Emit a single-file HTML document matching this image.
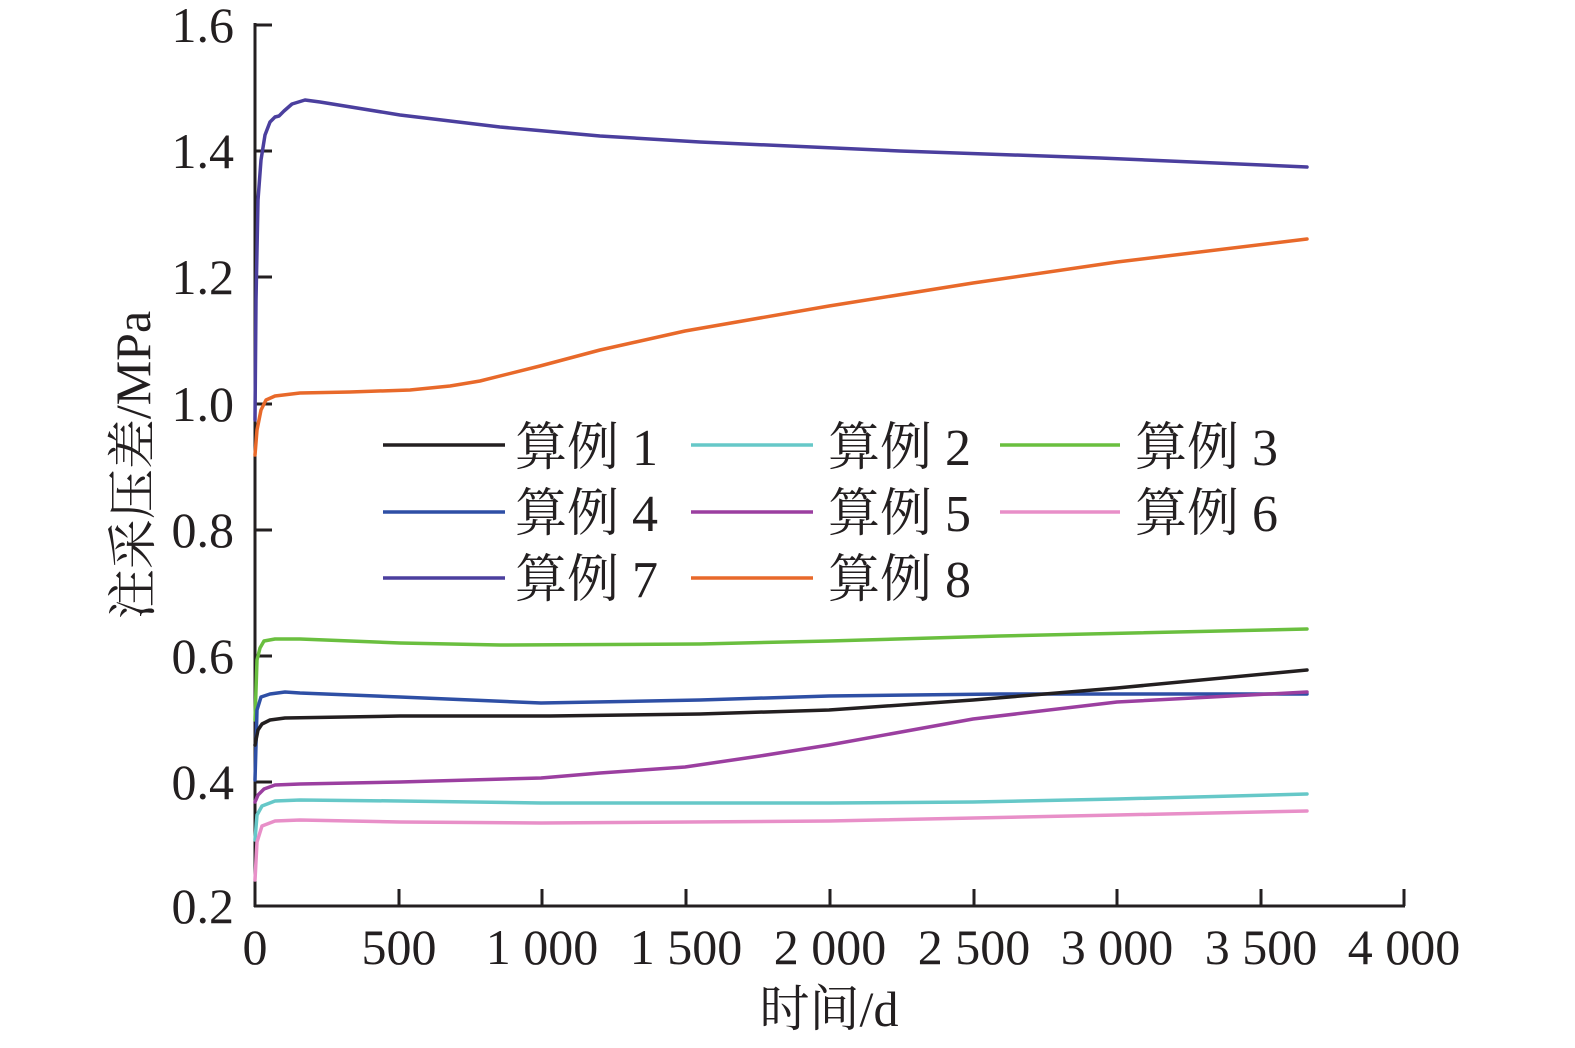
<!DOCTYPE html>
<html><head><meta charset="utf-8"><style>
html,body{margin:0;padding:0;background:#fff;overflow:hidden;width:1575px;height:1048px}
svg{display:block}
svg text{font-family:"Liberation Serif","Noto Serif CJK SC",serif;fill:#231f20}
</style></head><body>
<svg width="1575" height="1048" viewBox="0 0 1575 1048" xmlns="http://www.w3.org/2000/svg">
<g stroke="#231f20" stroke-width="3" fill="none">
<line x1="255" y1="23" x2="255" y2="907"/>
<line x1="254" y1="906" x2="1405" y2="906"/>
<line x1="255" y1="25" x2="272" y2="25"/>
<line x1="255" y1="151" x2="272" y2="151"/>
<line x1="255" y1="277" x2="272" y2="277"/>
<line x1="255" y1="404" x2="272" y2="404"/>
<line x1="255" y1="530" x2="272" y2="530"/>
<line x1="255" y1="656" x2="272" y2="656"/>
<line x1="255" y1="782" x2="272" y2="782"/>
<line x1="399" y1="906" x2="399" y2="889"/>
<line x1="542" y1="906" x2="542" y2="889"/>
<line x1="686" y1="906" x2="686" y2="889"/>
<line x1="830" y1="906" x2="830" y2="889"/>
<line x1="974" y1="906" x2="974" y2="889"/>
<line x1="1117" y1="906" x2="1117" y2="889"/>
<line x1="1261" y1="906" x2="1261" y2="889"/>
<line x1="1404" y1="906" x2="1404" y2="889"/>
</g>
<g font-size="50" text-anchor="end">
<text x="234" y="42">1.6</text><text x="234" y="168">1.4</text><text x="234" y="294">1.2</text>
<text x="234" y="421">1.0</text><text x="234" y="547">0.8</text><text x="234" y="673">0.6</text>
<text x="234" y="799">0.4</text><text x="234" y="923">0.2</text>
</g>
<g font-size="50" text-anchor="middle">
<text x="255" y="964">0</text><text x="399" y="964">500</text><text x="542" y="964">1 000</text>
<text x="686" y="964">1 500</text><text x="830" y="964">2 000</text><text x="974" y="964">2 500</text>
<text x="1117" y="964">3 000</text><text x="1261" y="964">3 500</text><text x="1404" y="964">4 000</text>
<text x="829" y="1026">时间/d</text>
<text transform="translate(150,465) rotate(-90)">注采压差/MPa</text>
</g>
<g fill="none" stroke-width="3.5" stroke-linejoin="round" stroke-linecap="round">
<polyline stroke="#4b3f9e" points="255,420 256,300 258,200 261,160 265,135 270,122 275,117 279,116 284,111 292,104 305,100 320,102 400,115 500,127 600,136 700,142 900,151 1100,158 1307,167"/>
<polyline stroke="#e8692a" points="255,455 257,430 261,410 266,400 275,396 300,393 350,392 410,390 450,386 480,381 540,366 600,350 685,331 829,306 973,283 1117,262 1307,239"/>
<polyline stroke="#6abf3f" points="255,720 257,660 260,648 264,641 275,639 300,639 400,643 500,645 700,644 829,641 1000,636 1307,629"/>
<polyline stroke="#2e4fa5" points="255,780 257,710 261,697 270,694 285,692 300,693 400,697 541,703 700,700 829,696 1000,694 1307,694"/>
<polyline stroke="#231f20" points="255,745 258,730 262,724 270,720 285,718 400,716 550,716 700,714 829,710 973,700 1117,688 1307,670"/>
<polyline stroke="#9b3fa0" points="255,802 258,795 264,789 275,785 300,784 400,782 541,778 600,773 685,767 760,756 829,745 973,719 1117,702 1307,692"/>
<polyline stroke="#66c8c8" points="255,840 257,815 262,806 275,801 300,800 400,801 541,803 829,803 973,802 1117,799 1307,794"/>
<polyline stroke="#e88fc8" points="255,880 257,842 262,826 275,821 300,820 400,822 541,823 829,821 1117,815 1307,811"/>
</g>
<g stroke-width="3.5">
<line x1="383" y1="445" x2="505" y2="445" stroke="#231f20"/>
<line x1="691" y1="445" x2="813" y2="445" stroke="#66c8c8"/>
<line x1="1000" y1="445" x2="1120" y2="445" stroke="#6abf3f"/>
<line x1="383" y1="512" x2="505" y2="512" stroke="#2e4fa5"/>
<line x1="691" y1="512" x2="813" y2="512" stroke="#9b3fa0"/>
<line x1="1000" y1="512" x2="1120" y2="512" stroke="#e88fc8"/>
<line x1="383" y1="578" x2="505" y2="578" stroke="#4b3f9e"/>
<line x1="691" y1="578" x2="813" y2="578" stroke="#e8692a"/>
</g>
<g font-size="52">
<text x="515" y="465">算例 1</text><text x="828" y="465">算例 2</text><text x="1135" y="465">算例 3</text>
<text x="515" y="531">算例 4</text><text x="828" y="531">算例 5</text><text x="1135" y="531">算例 6</text>
<text x="515" y="597">算例 7</text><text x="828" y="597">算例 8</text>
</g>
</svg>
</body></html>
